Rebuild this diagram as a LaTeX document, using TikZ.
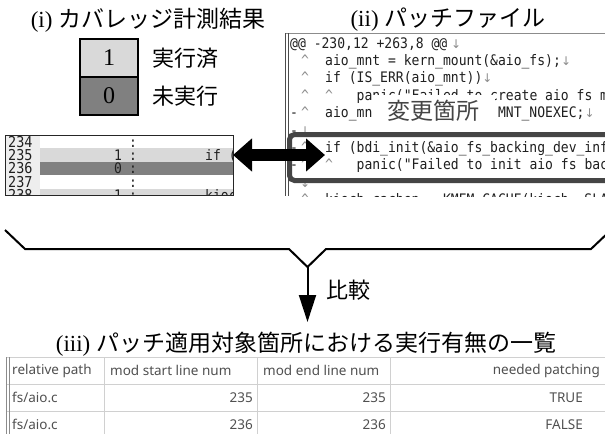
\documentclass[tikz,border=0pt]{standalone}
\usepackage{fontspec}
\setmainfont{Liberation Serif}
\newfontfamily\jp{Noto Sans CJK JP}
\newfontfamily\cfont[FakeStretch=0.9]{DejaVu Sans Mono}
\newfontfamily\tfont{Noto Sans}
\newfontfamily\symf{DejaVu Sans}
\usetikzlibrary{arrows.meta}
\definecolor{lg}{HTML}{D9D9D9}
\definecolor{dg}{HTML}{808080}
\definecolor{framec}{HTML}{454545}
\definecolor{mk}{HTML}{8C8C8C}
\definecolor{gridc}{HTML}{D0D0D0}
\definecolor{tabtxt}{HTML}{505050}
\definecolor{codec}{HTML}{202020}
\definecolor{numbg}{HTML}{EEEEEE}
\tikzset{
  ttl/.style={inner sep=0, font=\fontsize{23}{27}\selectfont},
  jpl/.style={inner sep=0, font=\jp\fontsize{22}{26}\selectfont},
  leg/.style={draw=black, line width=2pt, minimum width=58pt, minimum height=38pt, inner sep=0, font=\fontsize{24}{28}\selectfont},
  ctext/.style={anchor=base west, inner sep=0, font=\cfont\fontsize{14.5}{14.5}\selectfont, text=codec},
  ttext/.style={inner sep=0, font=\tfont\fontsize{13.5}{16}\selectfont, text=tabtxt},
}
% code column positions: col 0 at 290, col 1 marker at 301, col n>=4 at 293.6+7.86n
\newcommand\pl[3]{\node[ctext] at ({293.6+7.86*#1},#2) {#3};}
\newcommand\pz[2]{\node[ctext] at (290,#1) {#2};}
\newcommand\tbm[2]{\node[ctext,text=mk] at ({(#1<2?301:293.6+7.86*#1)},#2) {\textasciicircum};}
\newcommand\nlm[2]{\node[ctext,text=mk] at ({(#1<2?300:293.6+7.86*#1)},#2) {\symf\fontsize{12}{12}\selectfont ↓};}
\begin{document}
\begin{tikzpicture}[x=1pt,y=-1pt]
\useasboundingbox (0,0) rectangle (605,434);
\fill[white] (0,0) rectangle (605,434);

% titles
\node[ttl] (t1) at (148,20) {(i) {\jp カバレッジ計測結果}};
\node[ttl] (t2) at (448,20) {(ii) {\jp パッチファイル}};
\node[ttl] (t3) at (306,344) {(iii) {\jp パッチ適用対象箇所における実行有無の一覧}};

% legend
\node[leg, fill=lg] (one) at (109,58) {1};
\node[leg, fill=dg] (zero) at (109,96) {0};
\node[jpl, anchor=west] (done) at (152,58) {実行済};
\node[jpl, anchor=west] (notdone) at (152,96) {未実行};

% coverage screenshot
\fill[white] (5,135) rectangle (233,195);
\begin{scope}
\clip (5,135) rectangle (233,195);
\fill[numbg] (5,135) rectangle (40,202);
\fill[lg] (40,148.4) rectangle (233,161.8);
\fill[dg] (40,161.8) rectangle (233,175.2);
\fill[lg] (40,188.6) rectangle (233,202);
\foreach \n/\y in {234/147,235/160.4,236/173.8,237/187.2,238/200.6}{
  \node[ctext, font=\cfont\fontsize{15}{15}\selectfont] at (8,\y) {\n};
  \node[ctext, anchor=base] at (133,\y) {:};
}
\node[ctext, anchor=base] at (118,160.4) {1};
\node[ctext, anchor=base] at (118,173.8) {0};
\node[ctext, anchor=base] at (118,200.6) {1};
\node[ctext] at (205,160.4) {if (bdi\_init(\&aio\_fs\_backing\_dev\_info))};
\node[ctext] at (205,200.6) {kiocb\_cachep = KMEM\_CACHE(kiocb, SLAB\_HWCACHE\_ALIGN|SLAB\_PANIC);};
\end{scope}
\draw[line width=1pt, black!85] (5,135) rectangle (233,195);

% patch file screenshot
\fill[white] (285,33) rectangle (605,196);
\begin{scope}
\clip (285,33) rectangle (605,196);
\pz{48}{@@ -230,12 +263,8 @@} \nlm{20}{48}
\tbm{1}{65.4} \pl{4}{65.4}{aio\_mnt = kern\_mount(\&aio\_fs);} \nlm{34}{65.4}
\tbm{1}{82.8} \pl{4}{82.8}{if (IS\_ERR(aio\_mnt))} \nlm{24}{82.8}
\tbm{1}{100.2} \tbm{4}{100.2} \pl{8}{100.2}{panic("Failed to create aio fs mount.");}
\pz{117.6}{-} \tbm{1}{117.6} \pl{4}{117.6}{aio\_mnt->mnt\_flags |= MNT\_NOEXEC;} \nlm{37}{117.6}
\pz{135}{-} \nlm{1}{135}
\pz{152.4}{-} \tbm{1}{152.4} \pl{4}{152.4}{if (bdi\_init(\&aio\_fs\_backing\_dev\_info))}
\pz{169.8}{-} \tbm{1}{169.8} \tbm{4}{169.8} \pl{8}{169.8}{panic("Failed to init aio fs backing dev info.");}
\nlm{1}{187.2}
\tbm{1}{204.6} \pl{4}{204.6}{kiocb\_cachep = KMEM\_CACHE(kiocb, SLAB\_HWCACHE\_ALIGN|SLAB\_PANIC);}
\end{scope}
\draw[mk, line width=0.8pt] (285,33) -- (605,33);
\draw[black!70, line width=0.8pt] (285,33) -- (285,196);
\draw[black!70, line width=0.8pt] (288.5,33) -- (288.5,196);

% changed-region frame and label
\draw[framec, line width=5pt, rounded corners=5pt] (289.5,134.5) rectangle (630,180.5);
\node[fill=white, minimum width=123pt, minimum height=32pt, inner sep=0, text=framec, font=\jp\fontsize{23}{26}\selectfont] (chg) at (433.5,111) {変更箇所};

% double arrow
\coordinate (covR) at (233,155);
\coordinate (patL) at (325,155);
\draw[line width=12pt, {Triangle[length=19pt,width=32pt]}-{Triangle[length=19pt,width=32pt]}] (covR) -- (patL);

% bracket and compare arrow
\coordinate (v) at (307.5,267);
\coordinate (atip) at (307.5,322);
\draw[line width=2pt, line join=miter] (5,230) -- (25,249) -- (289,249) -- (v) -- (326,249) -- (591,249) -- (611,230);
\draw[line width=2pt, -{Triangle[length=27pt,width=17pt]}] (v) -- (atip);
\node[jpl, anchor=west] (cmp) at (326,290) {比較};

% table
\draw[gridc, line width=1pt] (6,357) -- (605,357) (6,384) -- (605,384) (6,411) -- (605,411);
\draw[gridc, line width=1pt] (104,357) -- (104,434) (257,357) -- (257,434) (390,357) -- (390,434);
\draw[black!45, line width=0.8pt] (6,357) -- (6,434) (9,357) -- (9,434);
\node[ttext, anchor=west] (h1) at (12,370.5) {relative path};
\node[ttext, anchor=west] (h2) at (110,370.5) {mod start line num};
\node[ttext, anchor=west] (h3) at (263,370.5) {mod end line num};
\node[ttext, anchor=east] (h4) at (600,370.5) {needed patching};
\node[ttext, anchor=west] (a1) at (12,397.5) {fs/aio.c};
\node[ttext, anchor=east] (a2) at (253,397.5) {235};
\node[ttext, anchor=east] (a3) at (386,397.5) {235};
\node[ttext, anchor=east] (a4) at (583,397.5) {TRUE};
\node[ttext, anchor=west] (b1) at (12,424.5) {fs/aio.c};
\node[ttext, anchor=east] (b2) at (253,424.5) {236};
\node[ttext, anchor=east] (b3) at (386,424.5) {236};
\node[ttext, anchor=east] (b4) at (583,424.5) {FALSE};
\end{tikzpicture}
\end{document}
